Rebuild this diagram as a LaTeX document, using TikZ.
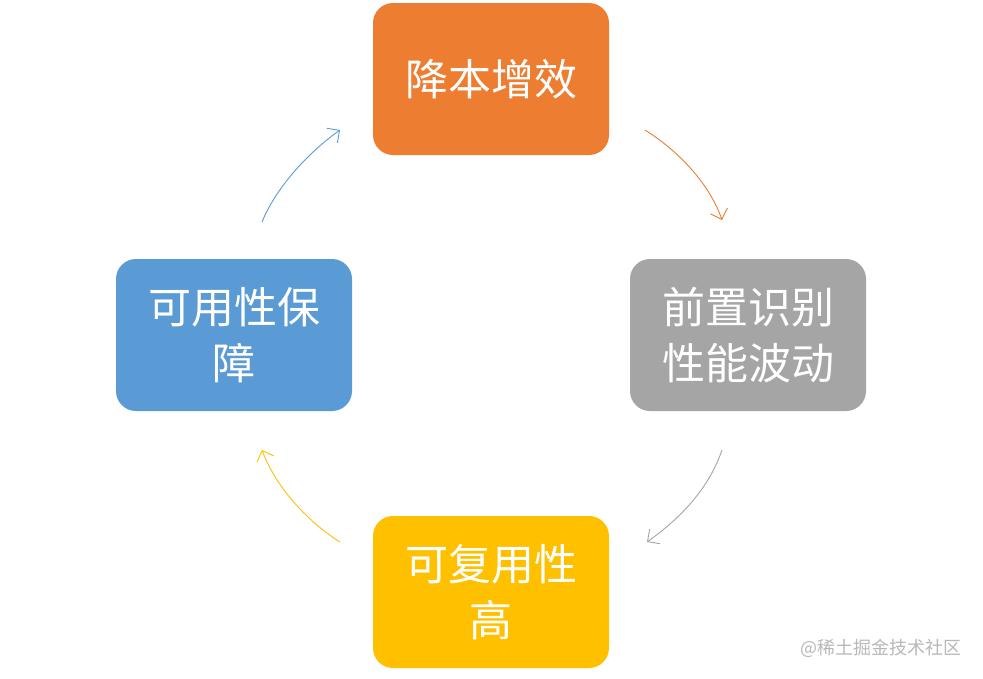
\documentclass[tikz,border=0pt]{standalone}
\usepackage{fontspec}
\newfontfamily\cjk{Noto Sans CJK SC}
\usetikzlibrary{arrows.meta}
\definecolor{cOrange}{HTML}{ED7D31}
\definecolor{cGray}{HTML}{A5A5A5}
\definecolor{cYellow}{HTML}{FFC000}
\definecolor{cBlue}{HTML}{5B9BD5}
\definecolor{cMark}{HTML}{B8B8B8}
\begin{document}
\begin{tikzpicture}[x=1pt,y=-1pt,
  box/.style={rounded corners=20pt, minimum width=236pt, minimum height=152pt, inner sep=0pt,
    text=white, font=\cjk\fontsize{43}{56}\selectfont, align=center},
  flow/.style={line width=0.9pt, -{Straight Barb[length=9pt,width=18pt,line width=0.9pt]}}]
\useasboundingbox (0,0) rectangle (983,678);
\fill[white] (0,0) rectangle (983,678);
\node[box, fill=cOrange] (top) at (491,79) {降本增效};
\node[box, fill=cGray] (right) at (748,335) {前置识别\\性能波动};
\node[box, fill=cYellow] (bottom) at (491,592) {可复用性\\高};
\node[box, fill=cBlue] (left) at (234,335) {可用性保\\障};
\coordinate (a1) at (645,130); \coordinate (a2) at (722,220);
\coordinate (b1) at (722,450); \coordinate (b2) at (647,542);
\coordinate (c1) at (340,542); \coordinate (c2) at (262,450);
\coordinate (d1) at (262,222); \coordinate (d2) at (340,130);
\draw[flow, cOrange] (a1) .. controls (680,152) and (710,185) .. (a2);
\draw[flow, cGray] (b1) .. controls (710,485) and (685,515) .. (b2);
\draw[flow, cYellow] (c1) .. controls (305,520) and (275,485) .. (c2);
\draw[flow, cBlue] (d1) .. controls (275,190) and (305,155) .. (d2);
\node[text=cMark, font=\cjk\fontsize{18}{20}\selectfont, anchor=east, inner sep=0pt] (mark) at (962,648) {@稀土掘金技术社区};
\end{tikzpicture}
\end{document}
